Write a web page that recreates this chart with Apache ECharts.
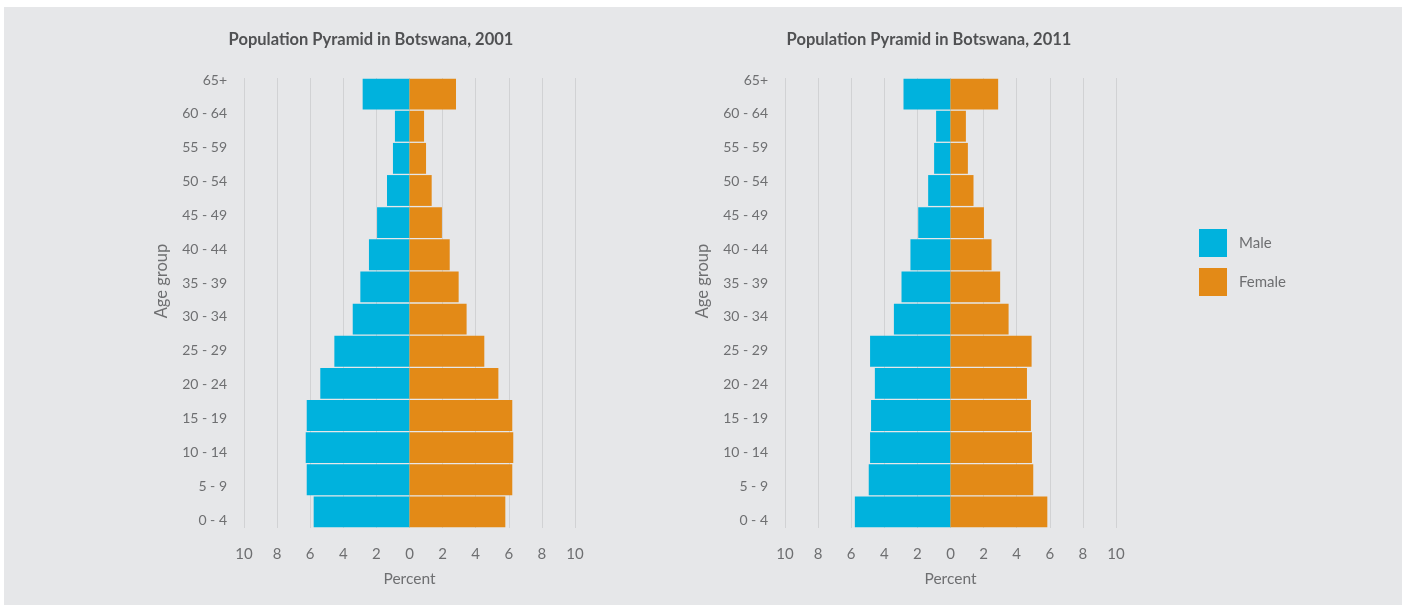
<!DOCTYPE html>
<html>
<head>
<meta charset="utf-8">
<title>Population Pyramid in Botswana</title>
<script src="https://cdn.jsdelivr.net/npm/echarts@6/dist/echarts.min.js"></script>
<style>
  html, body { margin: 0; padding: 0; background: #ffffff; }
  #panel { position: absolute; left: 4px; top: 7px; width: 1398px; height: 598px; background: #e6e7e9; }
  #chart { position: absolute; left: 0; top: 0; width: 1408px; height: 605px; }
</style>
</head>
<body>
<div id="panel"></div>
<div id="chart"></div>
<script>
// Age groups, youngest first (drawn bottom to top)
const ageGroups = ['0 - 4', '5 - 9', '10 - 14', '15 - 19', '20 - 24', '25 - 29', '30 - 34',
  '35 - 39', '40 - 44', '45 - 49', '50 - 54', '55 - 59', '60 - 64', '65+'];

// Share of total population (%), 2001 census
const male2001   = [5.79, 6.21, 6.27, 6.21, 5.39, 4.54, 3.43, 2.97, 2.45, 1.96, 1.36, 1.00, 0.88, 2.83];
const female2001 = [5.79, 6.21, 6.27, 6.21, 5.37, 4.52, 3.45, 2.97, 2.43, 1.96, 1.34, 1.00, 0.88, 2.81];

// Share of total population (%), 2011 census
const male2011   = [5.78, 4.94, 4.86, 4.80, 4.57, 4.86, 3.42, 2.96, 2.42, 1.95, 1.35, 0.99, 0.87, 2.84];
const female2011 = [5.85, 5.00, 4.92, 4.86, 4.62, 4.90, 3.51, 3.00, 2.48, 2.02, 1.39, 1.05, 0.93, 2.88];

const percentTicks = { min: -10, max: 10, interval: 2 };
const titles = ['Population Pyramid in Botswana, 2001', 'Population Pyramid in Botswana, 2011'];

const FONT = 'Lato, "Open Sans", sans-serif';
const TEXT = '#6e6f71';
const MALE = '#00b2dd';
const FEMALE = '#e38a17';

const panels = [
  { left: 244, titleX: 371, male: male2001, female: female2001 },
  { left: 785, titleX: 929, male: male2011, female: female2011 }
];

const grid = [], xAxis = [], yAxis = [], series = [], title = [];

panels.forEach((p, i) => {
  const barGrid = 2 * i, labelGrid = 2 * i + 1;
  // plotting area with the bars and vertical grid lines
  grid.push({ left: p.left, top: 78, width: 331, height: 450, containLabel: false });
  // category labels, spread evenly between the first and last rows
  grid.push({ left: p.left, top: 80, width: 331, height: 440, containLabel: false });

  title.push({
    text: titles[i], left: p.titleX, top: 31, textAlign: 'center', padding: 0,
    textStyle: { fontFamily: FONT, fontSize: 16.5, fontWeight: 'bold', color: '#505153' }
  });

  xAxis.push({
    type: 'value', gridIndex: barGrid,
    min: percentTicks.min, max: percentTicks.max, interval: percentTicks.interval,
    name: 'Percent', nameLocation: 'middle', nameGap: 43,
    nameTextStyle: { fontFamily: FONT, fontSize: 15.5, color: TEXT },
    axisLine: { show: false }, axisTick: { show: false },
    axisLabel: { margin: 19, fontFamily: FONT, fontSize: 15, color: TEXT,
      formatter: v => String(Math.abs(v)) },
    splitLine: { show: true, lineStyle: { color: '#d1d2d4', width: 1 } }
  });
  xAxis.push({ type: 'value', gridIndex: labelGrid, min: 0, max: 1, show: false });

  yAxis.push({
    type: 'category', gridIndex: barGrid, data: ageGroups,
    axisLine: { show: false }, axisTick: { show: false }, axisLabel: { show: false },
    splitLine: { show: false }
  });
  yAxis.push({
    type: 'category', gridIndex: labelGrid, data: ageGroups, boundaryGap: false,
    name: 'Age group', nameLocation: 'middle', nameGap: 74, nameRotate: 90,
    nameTextStyle: { fontFamily: FONT, fontSize: 16.5, color: TEXT, padding: [0, 0, 0, 38] },
    axisLine: { show: false }, axisTick: { show: false },
    axisLabel: { margin: 17, fontFamily: FONT, fontSize: 14, color: TEXT },
    splitLine: { show: false }
  });

  series.push({
    name: 'Male', type: 'bar', xAxisIndex: barGrid, yAxisIndex: barGrid,
    stack: 'pyramid' + i, barCategoryGap: '4%',
    itemStyle: { color: MALE },
    data: p.male.map(v => -v)
  });
  series.push({
    name: 'Female', type: 'bar', xAxisIndex: barGrid, yAxisIndex: barGrid,
    stack: 'pyramid' + i, barCategoryGap: '4%',
    itemStyle: { color: FEMALE },
    data: p.female
  });
});

const chart = echarts.init(document.getElementById('chart'), null, { renderer: 'canvas' });
chart.setOption({
  backgroundColor: 'transparent',
  animation: false,
  title,
  legend: {
    data: ['Male', 'Female'], orient: 'vertical', left: 1199, top: 229, padding: 0,
    icon: 'rect', itemWidth: 28, itemHeight: 28, itemGap: 11, selectedMode: false,
    textStyle: { fontFamily: FONT, fontSize: 15, color: TEXT, padding: [0, 0, 0, 7] }
  },
  tooltip: { show: false },
  grid, xAxis, yAxis, series
});
</script>
</body>
</html>
